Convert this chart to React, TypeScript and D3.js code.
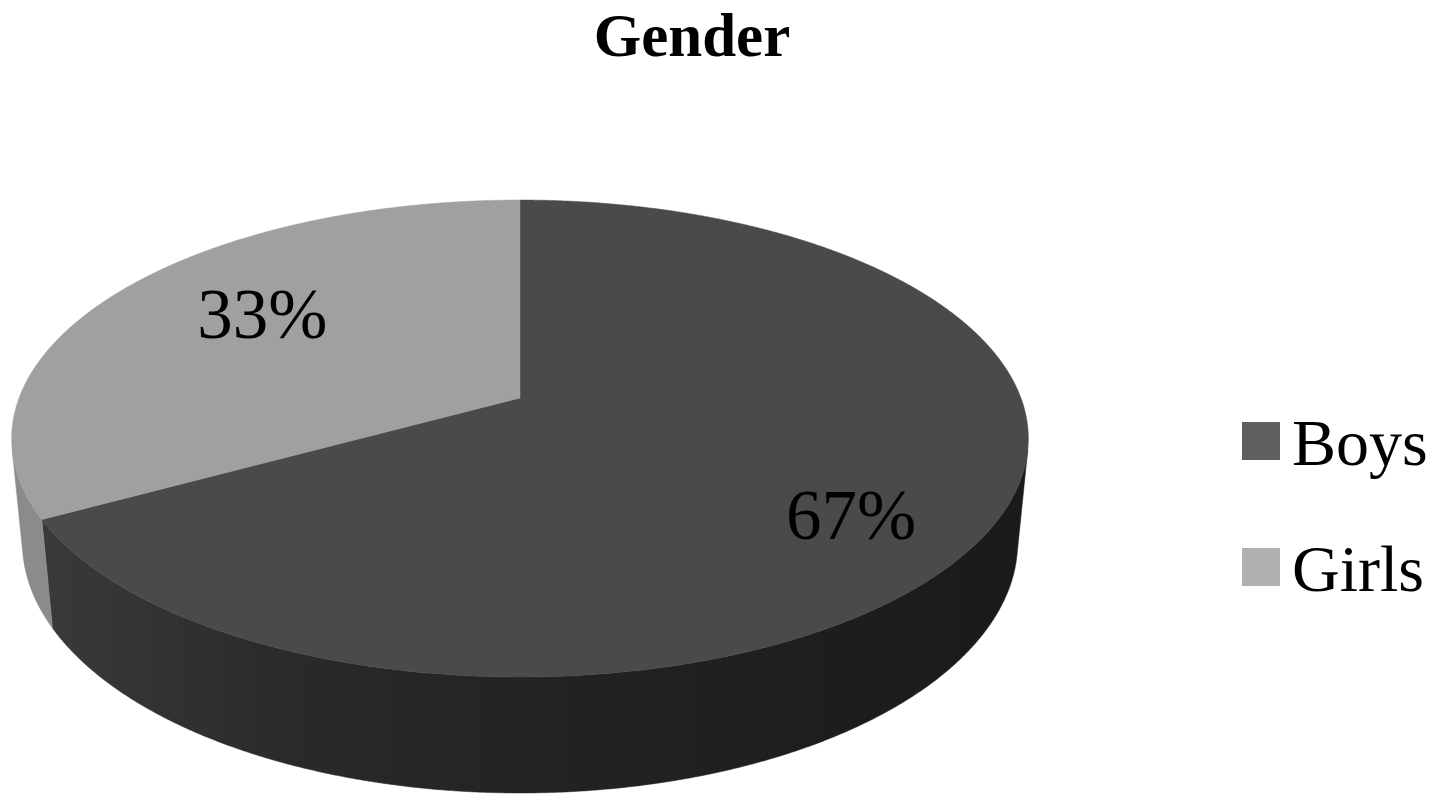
import React from "react";
import * as d3 from "d3";

const title = "Gender";
const categories = ["Boys", "Girls"];
const values = [67, 33];
const labels = ["67%", "33%"];
const topColors = ["#4a4a4a", "#a0a0a0"];
const legendColors = ["#5f5f5f", "#b0b0b0"];

const W = 1441;
const H = 810;

// perspective projection of a unit disk
const CX = 520;
const CY = 398;
const F = 2616;
const DIST = 5.222;
const SA = 0.4623;
const CA = Math.sqrt(1 - SA * SA);
const THICK = 0.2354;

function project(theta: number, r: number, h: number): [number, number] {
  const x = Math.sin(theta) * r;
  const d = Math.cos(theta) * r;
  const depth = DIST + d * CA - h * SA;
  const up = h * CA + d * SA;
  return [CX + (F * x) / depth, CY - (F * up) / depth];
}

const silCos = -1 / (DIST * CA);
const silLo = Math.acos(silCos); // right silhouette
const silHi = 2 * Math.PI - silLo; // left silhouette

function arcPoints(a0: number, a1: number, r: number, h: number) {
  const n = Math.max(2, Math.ceil(Math.abs(a1 - a0) / (Math.PI / 720)));
  const pts: [number, number][] = [];
  for (let i = 0; i <= n; i++) {
    const t = a0 + ((a1 - a0) * i) / n;
    pts.push(project(t, r, h));
  }
  return pts;
}

const line = d3.line<[number, number]>().curve(d3.curveLinear);

export default function App() {
  const pie = d3
    .pie<number>()
    .sort(null)
    .startAngle(0)
    .endAngle(2 * Math.PI)(values);

  const labelRadius = [0.72, 0.63];
  const labelDy = [26, -14];

  const walls: { d: string; fill: string }[] = [];
  pie.forEach((p, i) => {
    const lo = Math.max(p.startAngle, silLo);
    const hi = Math.min(p.endAngle, silHi);
    if (hi > lo) {
      const top = arcPoints(lo, hi, 1, 0);
      const bot = arcPoints(hi, lo, 1, -THICK);
      walls.push({
        d: line([...top, ...bot]) + "Z",
        fill: i === 0 ? "url(#boysWall)" : "#8b8b8b",
      });
    }
  });

  const tops = pie.map((p, i) => {
    const pts = arcPoints(p.startAngle, p.endAngle, 1, 0);
    return {
      d: line([project(0, 0, 0), ...pts]) + "Z",
      fill: topColors[i],
    };
  });

  return (
    <svg
      width={W}
      height={H}
      style={{ position: "absolute", left: 0, top: 0, display: "block", background: "#fff" }}
    >
      <defs>
        <linearGradient id="boysWall" gradientUnits="userSpaceOnUse" x1={40} y1={0} x2={1030} y2={0}>
          <stop offset="0" stopColor="#3a3a3a" />
          <stop offset="0.25" stopColor="#2a2a2a" />
          <stop offset="0.55" stopColor="#222222" />
          <stop offset="1" stopColor="#1a1a1a" />
        </linearGradient>
      </defs>
      <text
        x={692}
        y={56}
        textAnchor="middle"
        fontFamily="'Liberation Serif', 'Times New Roman', serif"
        fontWeight="bold"
        fontSize={61}
        fill="#000"
      >
        {title}
      </text>
      {walls.map((w, i) => (
        <path key={"w" + i} d={w.d} fill={w.fill} stroke={w.fill} strokeWidth={0.5} />
      ))}
      {tops.map((t, i) => (
        <path key={"t" + i} d={t.d} fill={t.fill} stroke={t.fill} strokeWidth={0.5} />
      ))}
      {pie.map((p, i) => {
        const mid = (p.startAngle + p.endAngle) / 2;
        const [lx, ly] = project(mid, labelRadius[i], 0);
        return (
          <text
            key={"l" + i}
            x={lx}
            y={ly + labelDy[i]}
            textAnchor="middle"
            dominantBaseline="central"
            fontFamily="'Liberation Serif', 'Times New Roman', serif"
            fontSize={71}
            fill="#000"
          >
            {labels[i]}
          </text>
        );
      })}
      {categories.map((c, i) => (
        <g key={"lg" + i} transform={`translate(1242, ${422 + i * 126})`}>
          <rect x={0} y={0} width={38} height={38} fill={legendColors[i]} />
          <text
            x={50}
            y={43}
            fontFamily="'Liberation Serif', 'Times New Roman', serif"
            fontSize={66}
            fill="#000"
          >
            {c}
          </text>
        </g>
      ))}
    </svg>
  );
}
